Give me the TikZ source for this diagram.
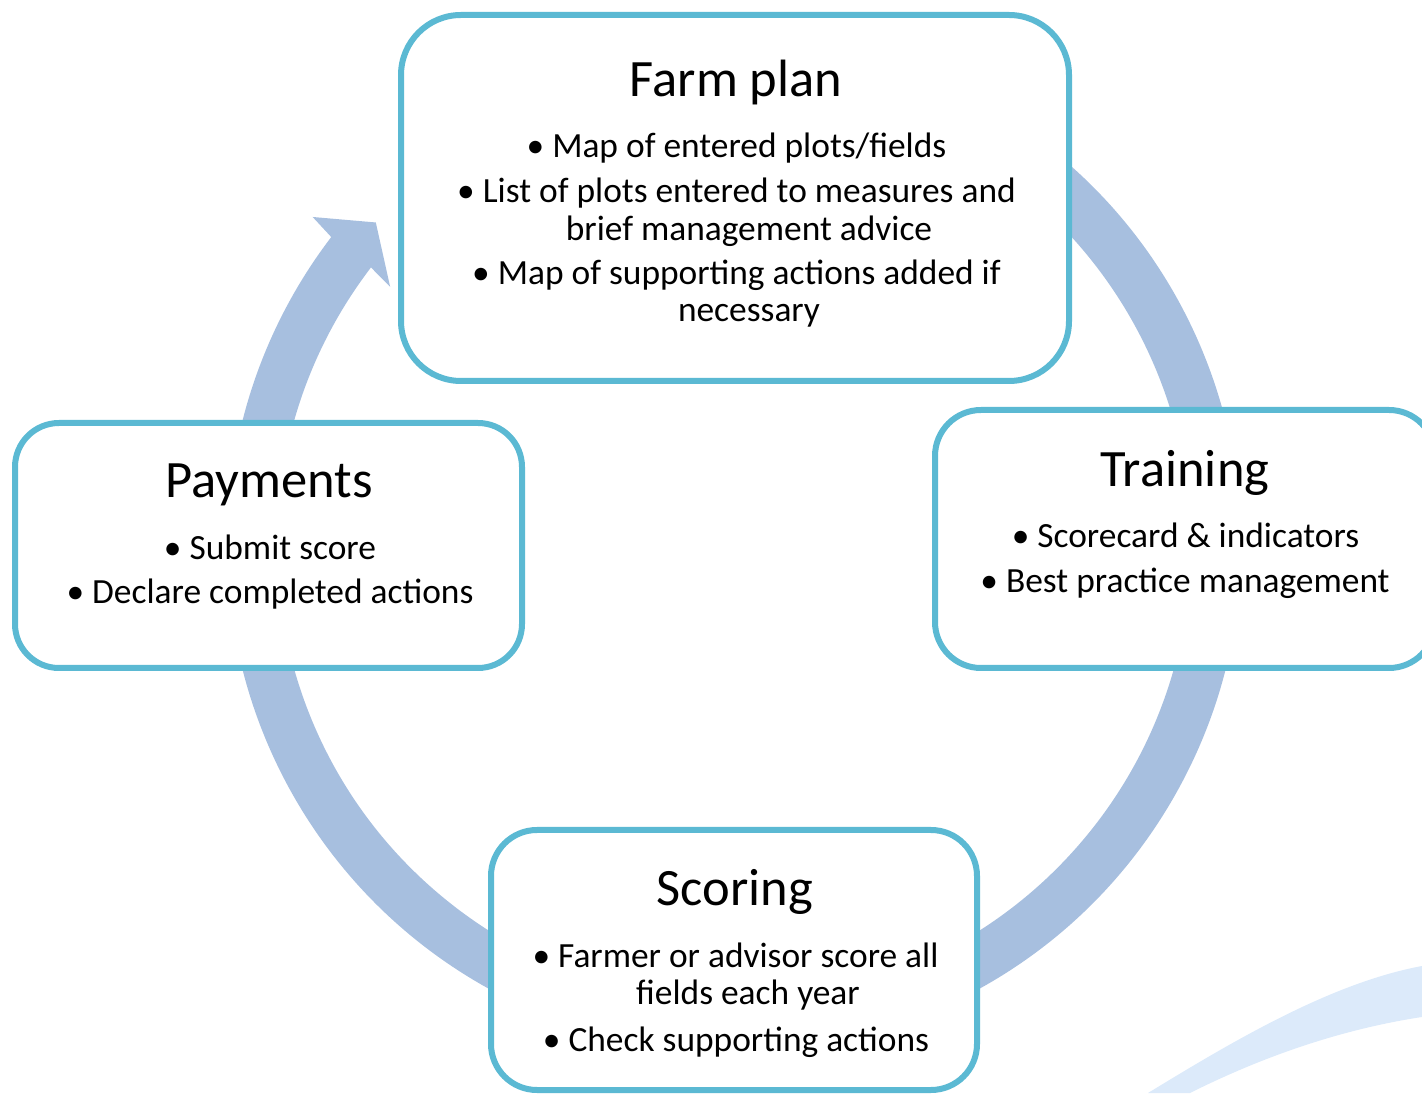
\documentclass[tikz,border=0pt]{standalone}
\usepackage{fontspec}
\setmainfont{Carlito}
\usetikzlibrary{calc}
\definecolor{bandblue}{HTML}{A7BFDF}
\definecolor{boxline}{HTML}{5BB9D3}
\definecolor{wmblue}{HTML}{DCEAFA}
\tikzset{
  cyclebox/.style={draw=boxline, line width=6pt, fill=white, rounded corners=#1, inner sep=0pt},
  ttl/.style={anchor=base, inner sep=0pt, font=\fontsize{52.5}{56}\selectfont},
  itm/.style={anchor=base, inner sep=0pt, font=\fontsize{35.4}{38}\selectfont},
}
\newcommand{\bul}{•\hspace{8pt}}
\begin{document}
\begin{tikzpicture}[x=1pt,y=1pt]
\useasboundingbox (0,0) rectangle (1422,1093);
\clip (0,0) rectangle (1422,1093);
% faint watermark swoosh
\fill[wmblue] (1148,0) .. controls (1230,50) and (1330,110) .. (1422,127)
  -- (1422,76) .. controls (1330,62) and (1250,30) .. (1190,0) -- cycle;
% circular arrow band
\coordinate (C) at (734,548);
\begin{scope}[shift={(C)}]
\fill[bandblue] (142.6:507pt) -- (142.1:534pt) -- (138:482pt) -- (143.1:430pt) -- (142.6:457pt)
  arc[start angle=142.6, end angle=420, radius=457pt]
  -- (420:507pt)
  arc[start angle=420, end angle=142.6, radius=507pt] -- cycle;
\end{scope}
% boxes
\node[cyclebox=60pt, minimum width=668pt, minimum height=366pt] (fp) at (735,895) {};
\node[cyclebox=46pt, minimum width=500pt, minimum height=258pt] (tr) at (1185,554) {};
\node[cyclebox=44pt, minimum width=507pt, minimum height=245pt] (pa) at (268.5,547.5) {};
\node[cyclebox=46pt, minimum width=486pt, minimum height=260pt] (sc) at (734,133) {};
% Farm plan
\node[ttl] (fpT) at (736,996.5) {Farm plan};
\node[itm] (fp1) at (736.5,935) {\bul Map of entered plots/fields};
\node[itm] (fp2) at (736.5,890.5) {\bul List of plots entered to measures and};
\node[itm] (fp3) at (749,852) {brief management advice};
\node[itm] (fp4) at (736.5,808) {\bul Map of supporting actions added if};
\node[itm] (fp5) at (749,771) {necessary};
% Training
\node[ttl] (trT) at (1185,606.5) {Training};
\node[itm] (tr1) at (1185.5,545) {\bul Scorecard \& indicators};
\node[itm] (tr2) at (1185,500) {\bul Best practice management};
% Payments
\node[ttl] (paT) at (269,595.5) {Payments};
\node[itm] (pa1) at (270,533) {\bul Submit score};
\node[itm] (pa2) at (270,489) {\bul Declare completed actions};
% Scoring
\node[ttl] (scT) at (735,187.5) {Scoring};
\node[itm] (sc1) at (735.5,125) {\bul Farmer or advisor score all};
\node[itm] (sc2) at (748,89) {fields each year};
\node[itm] (sc3) at (736,42) {\bul Check supporting actions};
\end{tikzpicture}
\end{document}
